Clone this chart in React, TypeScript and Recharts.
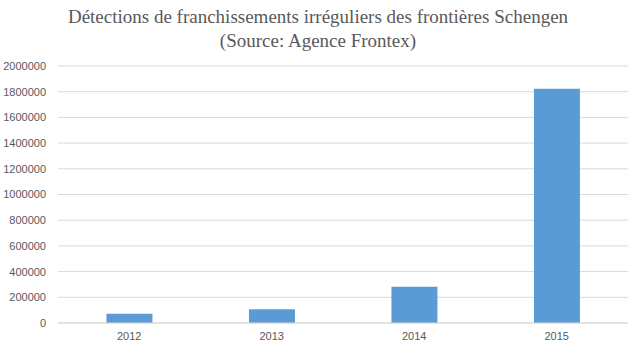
import { BarChart, Bar, XAxis, YAxis, CartesianGrid } from "recharts";

const years = ["2012", "2013", "2014", "2015"];
const detections = [72437, 107365, 282962, 1822177];
const yTicks = [0, 200000, 400000, 600000, 800000, 1000000, 1200000, 1400000, 1600000, 1800000, 2000000];

const data = years.map((year, i) => ({ year, value: detections[i] }));

export default function App() {
  return (
    <div style={{ position: "absolute", left: 0, top: 0, width: 636, height: 352, background: "#fff" }}>
      <div
        style={{
          position: "absolute",
          left: 0,
          top: 5,
          width: 636,
          textAlign: "center",
          fontFamily: "'Liberation Serif', 'Times New Roman', serif",
          fontSize: 19,
          lineHeight: "24px",
          color: "#595959",
        }}
      >
        Détections de franchissements irréguliers des frontières Schengen
        <br />
        (Source: Agence Frontex)
      </div>
      <BarChart
        width={636}
        height={352}
        data={data}
        margin={{ top: 66, right: 8, left: 0, bottom: 0 }}
        barCategoryGap="34%"
      >
        <CartesianGrid vertical={false} stroke="#d9d9d9" />
        <XAxis
          dataKey="year"
          height={29}
          tickSize={0}
          tickMargin={9}
          axisLine={{ stroke: "#d9d9d9" }}
          tick={{ fontSize: 11, fill: "#595959", fontFamily: "'Liberation Sans', Arial, sans-serif" }}
        />
        <YAxis
          width={58}
          domain={[0, 2000000]}
          ticks={yTicks}
          interval={0}
          tickSize={0}
          tickMargin={12}
          axisLine={false}
          tick={{ fontSize: 11, fill: "#595959", fontFamily: "'Liberation Sans', Arial, sans-serif" }}
        />
        <Bar dataKey="value" fill="#5b9bd5" isAnimationActive={false} />
      </BarChart>
    </div>
  );
}
